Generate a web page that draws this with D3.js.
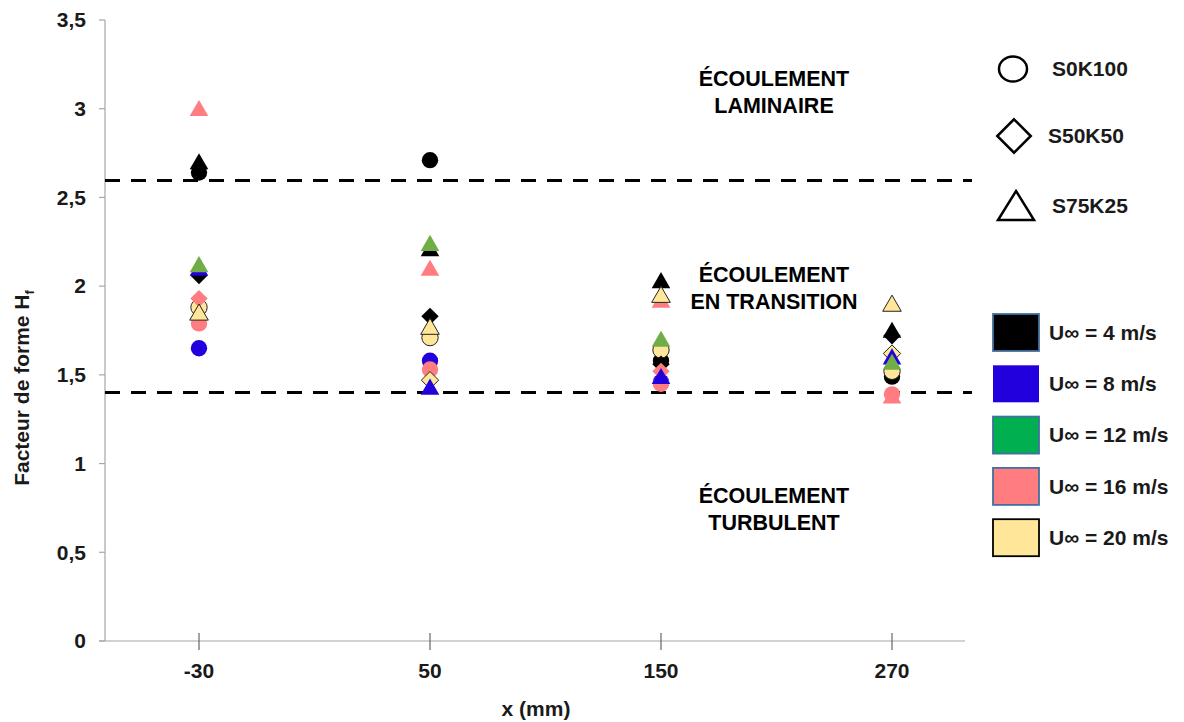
<!DOCTYPE html>
<html><head><meta charset="utf-8">
<script src="https://cdn.jsdelivr.net/npm/d3@7"></script>
<style>
html,body{margin:0;padding:0;background:#fff;}
svg{display:block;font-family:"Liberation Sans",Arial,sans-serif;font-weight:bold;}
</style></head>
<body><svg id="c" width="1184" height="722"></svg>
<script>
// ---- data ----
const categories = ["-30", "50", "150", "270"];
const yTicks = [0, 0.5, 1, 1.5, 2, 2.5, 3, 3.5];
const speeds = ["U∞ = 4 m/s", "U∞ = 8 m/s", "U∞ = 12 m/s", "U∞ = 16 m/s", "U∞ = 20 m/s"];
const mixtures = ["S0K100", "S50K50", "S75K25"];
// values per speed (4, 8, 12, 16, 20 m/s), per x position
const S0K100 = [
  [2.64, 2.71, 1.58, 1.49],
  [1.65, 1.58, 1.46, null],
  [null, null, null, null],
  [1.79, 1.53, 1.45, 1.39],
  [1.88, 1.71, 1.64, 1.52]
];
const S50K50 = [
  [2.06, 1.83, 1.56, 1.72],
  [null, null, null, null],
  [null, null, null, null],
  [1.93, null, 1.52, null],
  [null, 1.47, null, 1.62]
];
const S75K25 = [
  [2.70, 2.21, 2.03, 1.75],
  [2.10, 1.43, 1.49, 1.60],
  [2.12, 2.24, 1.70, 1.57],
  [3.00, 2.10, 1.92, 1.38],
  [1.85, 1.77, 1.95, 1.90]
];
const thresholds = [2.595, 1.40];
const regionLabels = [
  {lines: ["ÉCOULEMENT", "LAMINAIRE"], v: 3.13},
  {lines: ["ÉCOULEMENT", "EN TRANSITION"], v: 2.025},
  {lines: ["ÉCOULEMENT", "TURBULENT"], v: 0.78}
];

// ---- styles ----
const fillColors = ["#000000", "#2200dd", "#70ad47", "#ff7c80", "#ffe699"];
const legendFill = ["#000000", "#2200dd", "#00b050", "#ff7c80", "#ffe699"];
const legendStroke = ["#41719c", "none", "#41719c", "#41719c", "#000000"];
const FS = 21;

const svg = d3.select("#c");
const y = d3.scaleLinear().domain([0, 3.5]).range([641, 20]);
const x = d3.scalePoint().domain(categories).range([199, 892]);

// square diamond symbol (rotated square)
const squareDiamond = {draw(ctx, size) {
  const r = Math.sqrt(size / 2);
  ctx.moveTo(0, -r); ctx.lineTo(r, 0); ctx.lineTo(0, r); ctx.lineTo(-r, 0); ctx.closePath();
}};

// axes
const axisColor = "#a6a6a6";
svg.append("line").attr("x1", 105).attr("x2", 105).attr("y1", y(3.5)).attr("y2", y(0))
  .attr("stroke", axisColor).attr("stroke-width", 1.2);
svg.append("line").attr("x1", 99).attr("x2", 965).attr("y1", y(0)).attr("y2", y(0))
  .attr("stroke", axisColor).attr("stroke-width", 1.2);
yTicks.forEach(t => {
  svg.append("line").attr("x1", 99).attr("x2", 105).attr("y1", y(t)).attr("y2", y(t))
    .attr("stroke", axisColor).attr("stroke-width", 1.2);
  svg.append("text").attr("x", 86).attr("y", y(t)).attr("dy", "0.35em")
    .attr("text-anchor", "end").attr("font-size", FS).attr("fill", "#1a1a1a")
    .text(String(t).replace(".", ","));
});
categories.forEach(c => {
  svg.append("line").attr("x1", x(c)).attr("x2", x(c)).attr("y1", y(0) - 8).attr("y2", y(0) + 9)
    .attr("stroke", "#666").attr("stroke-width", 1.2);
  svg.append("text").attr("x", x(c)).attr("y", 678).attr("text-anchor", "middle")
    .attr("font-size", FS).attr("fill", "#1a1a1a").text(c);
});
svg.append("text").attr("x", 536).attr("y", 716).attr("text-anchor", "middle")
  .attr("font-size", FS).attr("fill", "#1a1a1a").text("x (mm)");
const yt = svg.append("text").attr("transform", "translate(29,388) rotate(-90)")
  .attr("text-anchor", "middle").attr("font-size", FS).attr("fill", "#1a1a1a");
yt.append("tspan").text("Facteur de forme H");
yt.append("tspan").attr("font-size", 13).attr("dy", 5).text("f");

// threshold dashed lines
thresholds.forEach(t => {
  svg.append("line").attr("x1", 105).attr("x2", 972).attr("y1", y(t)).attr("y2", y(t))
    .attr("stroke", "#000").attr("stroke-width", 3).attr("stroke-dasharray", "15,11");
});

// region labels
regionLabels.forEach(r => {
  const t = svg.append("text").attr("x", 774).attr("y", y(r.v)).attr("text-anchor", "middle")
    .attr("font-size", 21.5).attr("fill", "#000");
  r.lines.forEach((l, i) => t.append("tspan").attr("x", 774).attr("dy", i ? 27 : 0).text(l));
});

// markers
const shapes = [d3.symbolCircle, squareDiamond, d3.symbolTriangle];
const sizes = [210, 150, 150];
const sets = [S0K100, S50K50, S75K25];
sets.forEach((set, si) => {
  set.forEach((vals, k) => {
    vals.forEach((v, i) => {
      if (v == null) return;
      const dy = si === 2 ? 2 : 0;
      svg.append("path").attr("d", d3.symbol().type(shapes[si]).size(sizes[si])())
        .attr("transform", `translate(${x(categories[i])},${y(v) + dy})`)
        .attr("fill", fillColors[k])
        .attr("stroke", k === 4 ? "#222" : "none").attr("stroke-width", 1);
    });
  });
});

// legend: shapes
const legShapes = [
  {cx: 1013, cy: 69},
  {cx: 1014, cy: 136},
  {cx: 1016, cy: 206}
];
svg.append("ellipse").attr("cx", legShapes[0].cx).attr("cy", legShapes[0].cy).attr("rx", 14).attr("ry", 12.5)
  .attr("fill", "none").attr("stroke", "#000").attr("stroke-width", 2.5);
svg.append("path").attr("d", d3.symbol().type(squareDiamond).size(560)())
  .attr("transform", `translate(${legShapes[1].cx},${legShapes[1].cy})`)
  .attr("fill", "none").attr("stroke", "#000").attr("stroke-width", 2.5);
svg.append("path").attr("d", "M0,-15L18,14L-18,14Z")
  .attr("transform", `translate(${legShapes[2].cx},${legShapes[2].cy})`)
  .attr("fill", "none").attr("stroke", "#000").attr("stroke-width", 2.5);
const legTextX = [1052, 1048, 1052];
mixtures.forEach((m, i) => {
  svg.append("text").attr("x", legTextX[i]).attr("y", legShapes[i].cy).attr("dy", "0.35em")
    .attr("font-size", FS).attr("fill", "#1a1a1a").text(m);
});

// legend: speeds
speeds.forEach((s, i) => {
  const top = 314 + i * 51.3;
  svg.append("rect").attr("x", 993).attr("y", top).attr("width", 46).attr("height", 37)
    .attr("fill", legendFill[i]).attr("stroke", legendStroke[i]).attr("stroke-width", 1.8);
  svg.append("text").attr("x", 1049).attr("y", top + 18.5).attr("dy", "0.35em")
    .attr("font-size", FS).attr("fill", "#1a1a1a").text(s);
});
</script></body></html>
